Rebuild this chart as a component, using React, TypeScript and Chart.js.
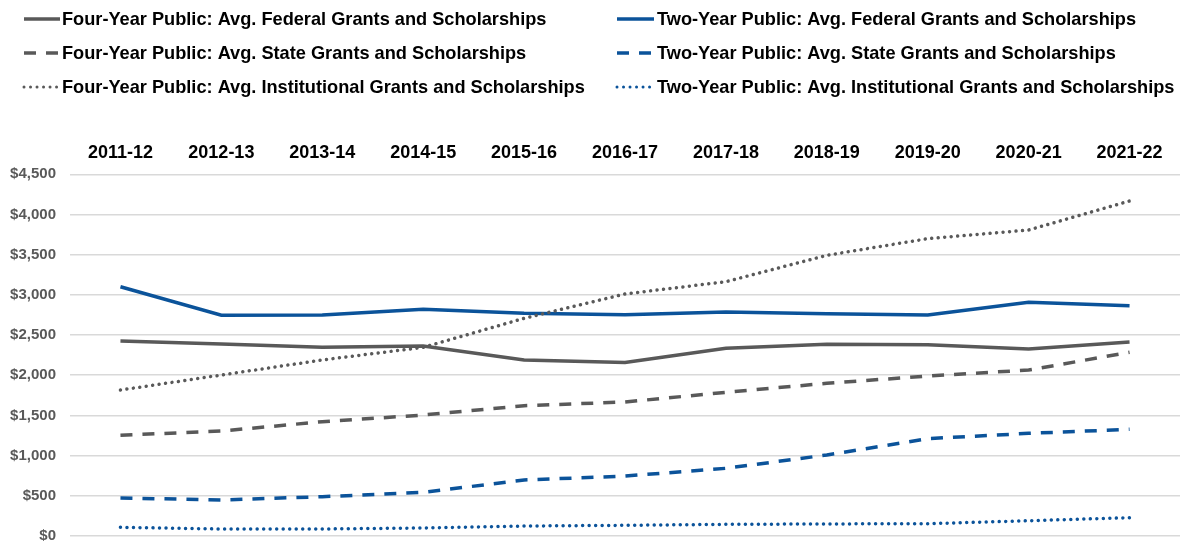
import React, { useEffect, useRef } from "react";
import { Chart, registerables } from "chart.js";

Chart.register(...registerables);

const categories = ["2011-12", "2012-13", "2013-14", "2014-15", "2015-16", "2016-17", "2017-18", "2018-19", "2019-20", "2020-21", "2021-22"];

const fourYearFederal = [2426, 2389, 2347, 2364, 2190, 2160, 2335, 2385, 2380, 2327, 2414];
const fourYearState = [1253, 1306, 1422, 1505, 1621, 1667, 1788, 1900, 1990, 2065, 2285];
const fourYearInstitutional = [1816, 2003, 2190, 2347, 2708, 3011, 3164, 3492, 3699, 3807, 4168];
const twoYearFederal = [3101, 2746, 2750, 2820, 2770, 2753, 2787, 2766, 2750, 2907, 2865];
const twoYearState = [473, 448, 489, 543, 697, 746, 842, 1008, 1211, 1277, 1327];
const twoYearInstitutional = [108, 87, 87, 100, 124, 133, 145, 150, 153, 190, 228];

const yTicks = [0, 500, 1000, 1500, 2000, 2500, 3000, 3500, 4000, 4500];

const GRAY = "#595959";
const BLUE = "#0B539A";
const FONT = "'Liberation Sans', Arial, sans-serif";

const SOLID: number[] = [];
const DASH = [12, 10];
const DOT = [0.01, 6.5];

type LegendEntry = { label: string; color: string; dash: number[]; cap: CanvasLineCap };

const legendLeft: LegendEntry[] = [
  { label: "Four-Year Public: Avg. Federal Grants and Scholarships", color: GRAY, dash: SOLID, cap: "butt" },
  { label: "Four-Year Public: Avg. State Grants and Scholarships", color: GRAY, dash: DASH, cap: "butt" },
  { label: "Four-Year Public: Avg. Institutional Grants and Scholarships", color: GRAY, dash: DOT, cap: "round" },
];
const legendRight: LegendEntry[] = [
  { label: "Two-Year Public: Avg. Federal Grants and Scholarships", color: BLUE, dash: SOLID, cap: "butt" },
  { label: "Two-Year Public: Avg. State Grants and Scholarships", color: BLUE, dash: DASH, cap: "butt" },
  { label: "Two-Year Public: Avg. Institutional Grants and Scholarships", color: BLUE, dash: DOT, cap: "round" },
];

const legendPlugin = {
  id: "customLegend",
  afterDraw(chart: any) {
    const ctx = chart.ctx as CanvasRenderingContext2D;
    const rows = [19, 53, 87];
    const cols = [
      { x0: 24, x1: 60, tx: 62, items: legendLeft },
      { x0: 617, x1: 654, tx: 657, items: legendRight },
    ];
    ctx.save();
    cols.forEach((c) => {
      c.items.forEach((it, i) => {
        const y = rows[i];
        ctx.beginPath();
        ctx.setLineDash(it.dash);
        ctx.lineCap = it.cap;
        ctx.lineWidth = it.cap === "round" ? 3 : 3.5;
        ctx.strokeStyle = it.color;
        ctx.moveTo(c.x0, y);
        ctx.lineTo(c.x1, y);
        ctx.stroke();
        ctx.setLineDash([]);
        ctx.fillStyle = "#000";
        ctx.font = `bold 18.2px ${FONT}`;
        ctx.textBaseline = "middle";
        ctx.textAlign = "left";
        ctx.fillText(it.label, c.tx, y + 1);
      });
    });
    ctx.restore();
  },
};

function ds(label: string, data: number[], color: string, dash: number[], dotted = false) {
  return {
    label,
    data,
    borderColor: color,
    backgroundColor: color,
    borderWidth: 3.5,
    borderDash: dash,
    borderCapStyle: dotted ? "round" : "butt",
    pointRadius: 0,
    tension: 0,
    fill: false,
  };
}

export default function App() {
  const ref = useRef<HTMLCanvasElement>(null);
  useEffect(() => {
    if (!ref.current) return;
    const chart = new Chart(ref.current, {
      type: "line",
      data: {
        labels: categories,
        datasets: [
          ds(legendLeft[2].label, fourYearInstitutional, GRAY, DOT, true),
          ds(legendRight[2].label, twoYearInstitutional, BLUE, DOT, true),
          ds(legendLeft[1].label, fourYearState, GRAY, DASH),
          ds(legendRight[1].label, twoYearState, BLUE, DASH),
          ds(legendLeft[0].label, fourYearFederal, GRAY, SOLID),
          ds(legendRight[0].label, twoYearFederal, BLUE, SOLID),
        ] as any,
      },
      options: {
        animation: false,
        responsive: false,
        maintainAspectRatio: false,
        layout: { padding: { left: 0, right: 3, top: 134.3, bottom: 5 } },
        plugins: { legend: { display: false }, tooltip: { enabled: false } },
        scales: {
          x: {
            position: "top",
            offset: true,
            grid: { display: false, drawTicks: false },
            border: { display: false },
            ticks: {
              color: "#000",
              font: { family: FONT, size: 18, weight: "bold" },
              padding: 10,
              maxRotation: 0,
              autoSkip: false,
            },
            afterFit(scale: any) {
              scale.height = 40;
              scale.paddingLeft = 0;
              scale.paddingRight = 0;
            },
          },
          y: {
            min: 0,
            max: 4500,
            afterBuildTicks(scale: any) {
              scale.ticks = yTicks.map((v) => ({ value: v }));
            },
            grid: { color: "#D9D9D9", lineWidth: 1.5, drawTicks: false },
            border: { display: false },
            ticks: {
              color: GRAY,
              font: { family: FONT, size: 15, weight: "bold" },
              padding: 14,
              callback: (v: any) => "$" + Number(v).toLocaleString("en-US"),
            },
            afterFit(scale: any) {
              scale.width = 70;
              scale.paddingTop = 0;
              scale.paddingBottom = 0;
            },
          },
        },
      },
      plugins: [legendPlugin],
    } as any);
    return () => chart.destroy();
  }, []);
  return (
    <div style={{ position: "fixed", left: 0, top: 0, width: 1183, height: 541, background: "#fff" }}>
      <canvas ref={ref} width={1183} height={541} style={{ display: "block", width: 1183, height: 541 }} />
    </div>
  );
}
